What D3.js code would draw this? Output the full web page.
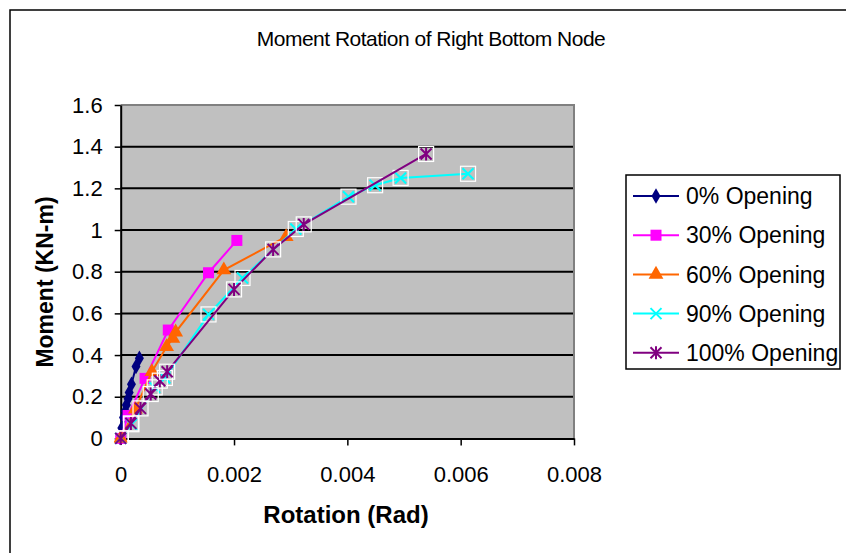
<!DOCTYPE html>
<html>
<head>
<meta charset="utf-8">
<script src="https://cdn.jsdelivr.net/npm/d3@7"></script>
<style>
  body { margin: 0; background: #fff; }
  text { font-family: Arial, "Liberation Sans", sans-serif; }
</style>
</head>
<body>
<div id="chart"></div>
<script>
// data
var seriesNames = ["0% Opening", "30% Opening", "60% Opening", "90% Opening", "100% Opening"];

var rot0   = [0, 0.00002, 0.00005, 0.00008, 0.0001, 0.00013, 0.00015, 0.00019, 0.00027, 0.00033];
var mom0   = [0, 0.05, 0.10, 0.13, 0.16, 0.19, 0.22, 0.26, 0.345, 0.385];

var rot30  = [0, 0.00013, 0.00043, 0.00084, 0.00155, 0.00205];
var mom30  = [0, 0.11, 0.288, 0.52, 0.795, 0.95];

var rot60  = [0, 0.00026, 0.00055, 0.00081, 0.00092, 0.00097, 0.00182, 0.00292];
var mom60  = [0, 0.14, 0.32, 0.44, 0.48, 0.51, 0.808, 0.968];

var rot90  = [0, 0.00019, 0.0006, 0.00078, 0.00155, 0.00215, 0.00309, 0.00402, 0.00449, 0.00494, 0.00613];
var mom90  = [0, 0.068, 0.245, 0.29, 0.595, 0.77, 1.005, 1.16, 1.215, 1.25, 1.27];

var rot100 = [0, 0.00018, 0.00035, 0.00053, 0.00069, 0.00082, 0.002, 0.00269, 0.00323, 0.00539];
var mom100 = [0, 0.072, 0.144, 0.213, 0.277, 0.32, 0.715, 0.907, 1.027, 1.365];

var xTicks = [0, 0.002, 0.004, 0.006, 0.008];
var xTickLabels = ["0", "0.002", "0.004", "0.006", "0.008"];
var yTicks = [0, 0.2, 0.4, 0.6, 0.8, 1.0, 1.2, 1.4, 1.6];
var yTickLabels = ["0", "0.2", "0.4", "0.6", "0.8", "1", "1.2", "1.4", "1.6"];

var colors = ["#000080", "#ff00ff", "#ff6600", "#00ffff", "#800080"];

var W = 846, H = 553;
var margin = {top: 105, left: 120.7},
    width = 453.3,
    height = 333.4;

var svg = d3.select("#chart").append("svg")
  .attr("width", W).attr("height", H);

// outer chart border
svg.append("rect")
  .attr("x", 10).attr("y", 10).attr("width", 860).attr("height", 580)
  .attr("fill", "#fff").attr("stroke", "#000").attr("stroke-width", 1.5);

svg.append("text")
  .attr("x", 431).attr("y", 46)
  .attr("text-anchor", "middle")
  .style("font-size", "21px")
  .style("letter-spacing", "-0.5px")
  .text("Moment Rotation of Right Bottom Node");

var g = svg.append("g")
  .attr("transform", "translate(" + margin.left + "," + margin.top + ")");

var x = d3.scaleLinear().domain([0, 0.008]).range([0, width]);
var y = d3.scaleLinear().domain([0, 1.6]).range([height, 0]);

// plot background
g.append("rect")
  .attr("width", width).attr("height", height)
  .attr("fill", "#c0c0c0");

// gridlines
g.selectAll(".grid")
  .data(yTicks.slice(1, -1))
  .enter().append("line")
  .attr("x1", 0).attr("x2", width)
  .attr("y1", function(d) { return y(d); })
  .attr("y2", function(d) { return y(d); })
  .attr("stroke", "#000").attr("stroke-width", 2);

// plot border top / right
g.append("path")
  .attr("d", "M0," + y(1.6) + "H" + width + "V" + height)
  .attr("fill", "none").attr("stroke", "#808080").attr("stroke-width", 2);

// axes
var xAxis = d3.axisBottom(x).tickValues(xTicks)
  .tickFormat(function(d, i) { return xTickLabels[i]; })
  .tickSize(7).tickSizeOuter(0);
var gx = g.append("g").attr("transform", "translate(0," + height + ")").call(xAxis);

var yAxis = d3.axisLeft(y).tickValues(yTicks)
  .tickFormat(function(d, i) { return yTickLabels[i]; })
  .tickSize(6).tickSizeOuter(0).tickPadding(12);
var gy = g.append("g").call(yAxis);

[gx, gy].forEach(function(a) {
  a.select(".domain").attr("stroke", "#000").attr("stroke-width", 2);
  a.selectAll(".tick line").attr("stroke", "#000").attr("stroke-width", 1.5);
  a.selectAll(".tick text")
    .style("font-size", "22px")
    .style("font-family", "Arial, 'Liberation Sans', sans-serif")
    .attr("fill", "#000");
});
gx.selectAll(".tick text").attr("y", 28).attr("dy", "0.71em");

// axis titles
svg.append("text")
  .attr("x", 346).attr("y", 523)
  .attr("text-anchor", "middle")
  .style("font-size", "24px").style("font-weight", "bold")
  .text("Rotation (Rad)");

svg.append("text")
  .attr("transform", "translate(53,282) rotate(-90)")
  .attr("text-anchor", "middle")
  .style("font-size", "23px").style("font-weight", "bold")
  .text("Moment (KN-m)");

// marker shapes
function xPath(s) {
  return "M" + (-s) + "," + (-s) + "L" + s + "," + s + "M" + (-s) + "," + s + "L" + s + "," + (-s);
}
function starPath(s) {
  return xPath(s) + "M0," + (-s - 1) + "V" + (s + 1);
}

function drawMarker(sel, k, boxed) {
  var c = colors[k];
  if (k === 0) {
    sel.append("path").attr("d", d3.symbol().type(d3.symbolDiamond).size(70)())
      .attr("fill", c);
  } else if (k === 1) {
    sel.append("rect").attr("x", -5.5).attr("y", -5.5).attr("width", 11).attr("height", 11)
      .attr("fill", c);
  } else if (k === 2) {
    sel.append("path").attr("d", d3.symbol().type(d3.symbolTriangle).size(95)())
      .attr("fill", c);
  } else {
    if (boxed) {
      sel.append("rect").attr("x", -7.5).attr("y", -7.5).attr("width", 15).attr("height", 15)
        .attr("fill", "none").attr("stroke", "#fff").attr("stroke-width", 1.2);
    }
    sel.append("path").attr("d", k === 3 ? xPath(5.5) : starPath(5.5))
      .attr("fill", "none").attr("stroke", c).attr("stroke-width", 2);
  }
}

var rots = [rot0, rot30, rot60, rot90, rot100];
var moms = [mom0, mom30, mom60, mom90, mom100];

var line = d3.line()
  .x(function(d) { return x(d[0]); })
  .y(function(d) { return y(d[1]); });

rots.forEach(function(r, k) {
  var pts = r.map(function(v, i) { return [v, moms[k][i]]; });
  g.append("path")
    .datum(pts)
    .attr("d", line)
    .attr("fill", "none")
    .attr("stroke", colors[k])
    .attr("stroke-width", 2);
  g.selectAll(".m" + k)
    .data(pts)
    .enter().append("g")
    .attr("class", "m" + k)
    .attr("transform", function(d) { return "translate(" + x(d[0]) + "," + y(d[1]) + ")"; })
    .each(function() { drawMarker(d3.select(this), k, true); });
});

// legend
var leg = svg.append("g").attr("transform", "translate(626,175)");
leg.append("rect")
  .attr("width", 214).attr("height", 194)
  .attr("fill", "#fff").attr("stroke", "#000").attr("stroke-width", 1.5);

seriesNames.forEach(function(name, k) {
  var cy = 21 + k * 39.2;
  var item = leg.append("g").attr("transform", "translate(0," + cy + ")");
  item.append("line")
    .attr("x1", 7).attr("x2", 53)
    .attr("stroke", colors[k]).attr("stroke-width", 2);
  var m = item.append("g").attr("transform", "translate(30,0)");
  drawMarker(m, k, false);
  item.append("text")
    .attr("x", 60).attr("y", 0).attr("dy", "0.36em")
    .style("font-size", "23px")
    .text(name);
});
</script>
</body>
</html>
